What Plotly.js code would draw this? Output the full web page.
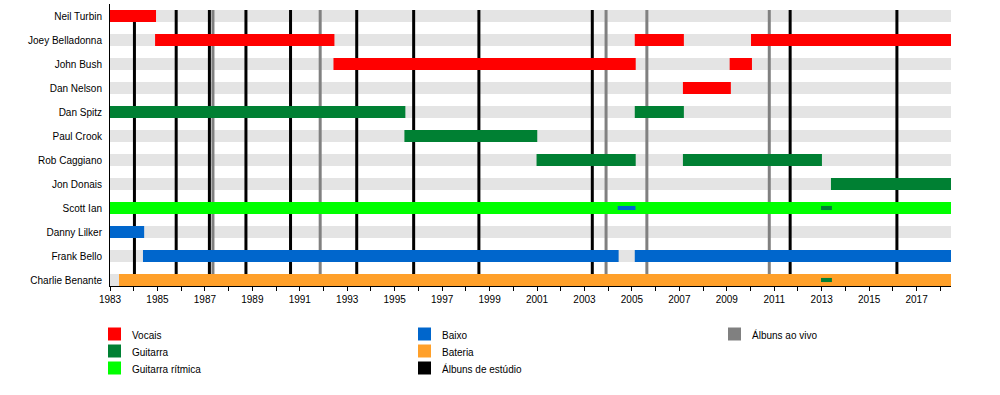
<!DOCTYPE html>
<html>
<head>
<meta charset="utf-8">
<script src="https://cdn.plot.ly/plotly-3.0.1.min.js"></script>
<style>html,body{margin:0;padding:0;background:#fff;}#chart{width:1000px;height:395px;}</style>
</head>
<body>
<div id="chart"></div>
<script>
// ---- data ----
const members = ['Neil Turbin','Joey Belladonna','John Bush','Dan Nelson','Dan Spitz','Paul Crook','Rob Caggiano','Jon Donais','Scott Ian','Danny Lilker','Frank Bello','Charlie Benante'];
const periodStart = 1983;
const periodEnd = 2018.45;

// Vocais
const vocMember = ['Neil Turbin','Joey Belladonna','John Bush','Joey Belladonna','Dan Nelson','John Bush','Joey Belladonna'];
const vocStart  = [1983, 1984.90, 1992.42, 2005.12, 2007.15, 2009.12, 2010.02];
const vocEnd    = [1984.94, 1992.46, 2005.16, 2007.19, 2009.17, 2010.06, 2018.45];
// Guitarra
const gtrMember = ['Dan Spitz','Paul Crook','Rob Caggiano','Dan Spitz','Rob Caggiano','Jon Donais'];
const gtrStart  = [1983, 1995.41, 2000.98, 2005.12, 2007.15, 2013.39];
const gtrEnd    = [1995.45, 2001.01, 2005.16, 2007.19, 2013.01, 2018.45];
// Guitarra (thin, secondary)
const gtr2Member = ['Scott Ian','Charlie Benante'];
const gtr2Start  = [2012.97, 2012.97];
const gtr2End    = [2013.43, 2013.43];
// Guitarra rítmica
const rhyMember = ['Scott Ian'];
const rhyStart  = [1983];
const rhyEnd    = [2018.45];
// Baixo
const bassMember = ['Danny Lilker','Frank Bello','Frank Bello'];
const bassStart  = [1983, 1984.39, 2005.12];
const bassEnd    = [1984.44, 2004.44, 2018.45];
// Baixo (thin, secondary)
const bass2Member = ['Scott Ian'];
const bass2Start  = [2004.40];
const bass2End    = [2005.15];
// Bateria
const drumMember = ['Charlie Benante'];
const drumStart  = [1983.38];
const drumEnd    = [2018.45];

// Albums
const studioAlbums = [1984.03, 1985.79, 1987.19, 1988.73, 1990.61, 1993.40, 1995.80, 1998.55, 2003.33, 2011.67, 2016.17];
const liveAlbums   = [1987.34, 1991.86, 2003.91, 2005.63, 2010.79];

// Legend
const legendLabels = ['Vocais','Guitarra','Guitarra rítmica','Baixo','Bateria','Álbuns de estúdio','Álbuns ao vivo'];
const legendColors = ['#ff0000','#008033','#00ff00','#0066cc','#ffa02a','#000000','#808080'];

// ---- drawing ----
const C = {voc:'#ff0000', gtr:'#008033', rhy:'#00ff00', bass:'#0066cc', drum:'#ffa02a', studio:'#000000', live:'#808080', bg:'#e4e4e4'};
const idx = m => members.indexOf(m);

function barTrace(mem, st, en, color, w) {
  return {
    type:'bar', orientation:'h',
    y: mem.map(idx),
    base: st,
    x: en.map((e,i)=>e-st[i]),
    width: w,
    marker:{color:color, line:{width:0}},
    hoverinfo:'skip', showlegend:false
  };
}

const traces = [
  barTrace(vocMember, vocStart, vocEnd, C.voc, 0.5),
  barTrace(gtrMember, gtrStart, gtrEnd, C.gtr, 0.5),
  barTrace(rhyMember, rhyStart, rhyEnd, C.rhy, 0.5),
  barTrace(bassMember, bassStart, bassEnd, C.bass, 0.5),
  barTrace(drumMember, drumStart, drumEnd, C.drum, 0.5),
  barTrace(bass2Member, bass2Start, bass2End, C.bass, 0.17),
  barTrace(gtr2Member, gtr2Start, gtr2End, C.gtr, 0.17)
];

const shapes = [];
members.forEach((m,i)=>{
  shapes.push({type:'rect', layer:'below', xref:'x', yref:'y', x0:periodStart, x1:periodEnd, y0:i-0.25, y1:i+0.25, fillcolor:C.bg, line:{width:0}});
});
studioAlbums.forEach(a=>shapes.push({type:'line', layer:'below', xref:'x', yref:'y', x0:a, x1:a, y0:-0.25, y1:members.length-0.75, line:{color:C.studio, width:3}}));
liveAlbums.forEach(a=>shapes.push({type:'line', layer:'below', xref:'x', yref:'y', x0:a, x1:a, y0:-0.25, y1:members.length-0.75, line:{color:C.live, width:3}}));

// legend in pixel positions
const W = 1000, H = 395;
const mL = 110, mR = 49, mT = 4, mB = 109;
const pw = W - mL - mR, ph = H - mT - mB;
const px = x => (x - mL) / pw;
const py = y => (H - mB - y) / ph;
const legCols = [108, 418, 728];
const legRows = [334, 351, 368];
const annotations = [];
legendLabels.forEach((lab,i)=>{
  const col = Math.floor(i/3), row = i%3;
  const x = legCols[col], y = legRows[row];
  shapes.push({type:'rect', xref:'paper', yref:'paper', x0:px(x), x1:px(x+13), y0:py(y+6.5), y1:py(y-6.5), fillcolor:legendColors[i], line:{width:0}});
  annotations.push({xref:'paper', yref:'paper', x:px(x+22), y:py(y+1), text:lab, showarrow:false, xanchor:'left', yanchor:'middle', font:{size:10, color:'#000'}});
});

const layout = {
  width:W, height:H,
  margin:{l:mL, r:mR, t:mT, b:mB, pad:0},
  paper_bgcolor:'#fff', plot_bgcolor:'rgba(0,0,0,0)',
  font:{family:'"Liberation Sans", Arial, sans-serif', size:10, color:'#000'},
  barmode:'overlay', showlegend:false,
  xaxis:{
    range:[periodStart, periodEnd], showgrid:false, zeroline:false,
    showline:true, linecolor:'#000', linewidth:1,
    tick0:1983, dtick:2, ticks:'outside', ticklen:4, tickwidth:1, tickcolor:'#000',
    tickfont:{size:10}, tickformat:'d',
    minor:{dtick:1, tick0:1983, ticks:'outside', ticklen:4, tickwidth:1, tickcolor:'#000', showgrid:false}
  },
  yaxis:{
    range:[members.length-0.75, -0.5], showgrid:false, zeroline:false,
    showline:true, linecolor:'#000', linewidth:1,
    tickmode:'array', tickvals:members.map((m,i)=>i), ticktext:members,
    ticks:'', ticklabelstandoff:5, tickfont:{size:10}
  },
  shapes:shapes, annotations:annotations
};

Plotly.newPlot('chart', traces, layout, {staticPlot:true, displayModeBar:false});
</script>
</body>
</html>
